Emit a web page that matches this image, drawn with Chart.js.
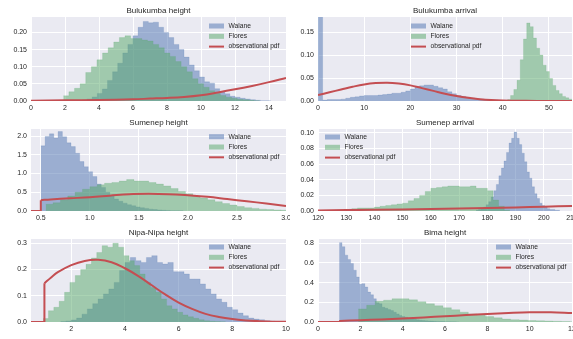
<!DOCTYPE html>
<html lang="en">
<head>
<meta charset="UTF-8">
<title>Walane / Flores histograms</title>
<style>
    body {
        margin: 0;
        background: #fff;
        width: 573px;
        height: 339px;
        position: relative;
        overflow: hidden;
    }
    canvas {
        position: absolute;
    }
</style>
</head>
<body>
<canvas id="c1" width="290" height="112" style="left:0;top:0"></canvas>
<canvas id="c2" width="283" height="112" style="left:290px;top:0"></canvas>
<canvas id="c3" width="290" height="111" style="left:0;top:112px"></canvas>
<canvas id="c4" width="283" height="111" style="left:290px;top:112px"></canvas>
<canvas id="c5" width="290" height="116" style="left:0;top:223px"></canvas>
<canvas id="c6" width="283" height="116" style="left:290px;top:223px"></canvas>

<script src="https://cdn.jsdelivr.net/npm/chart.js"></script>
<script>
// ---- data ----
// histograms: first bin edge, bin width, bar heights (density)

// Bulukumba height
const buluHeightWalaneStart = 2.7, buluHeightWalaneBin = 0.3;
const buluHeightWalane = [0.001, 0.003, 0.006, 0.012, 0.022, 0.035, 0.06, 0.085, 0.11, 0.14, 0.165, 0.19,
    0.215, 0.232, 0.228, 0.23, 0.215, 0.2, 0.185, 0.165, 0.15, 0.128, 0.105, 0.088, 0.07, 0.056, 0.052,
    0.036, 0.026, 0.021, 0.014, 0.011, 0.008, 0.006, 0.004, 0.002, 0.001, 0.001];
const buluHeightFloresStart = 1.9, buluHeightFloresBin = 0.33;
const buluHeightFlores = [0.015, 0.027, 0.037, 0.05, 0.083, 0.1, 0.12, 0.14, 0.155, 0.172, 0.185, 0.19,
    0.182, 0.182, 0.178, 0.175, 0.165, 0.155, 0.14, 0.13, 0.115, 0.1, 0.085, 0.065, 0.05, 0.04, 0.03,
    0.022, 0.016, 0.011, 0.008, 0.005, 0.004, 0.002, 0.001];
const buluHeightPdfX = [0, 2, 4, 6, 7, 8, 9, 10, 11, 12, 13, 14, 15];
const buluHeightPdfY = [0.001, 0.002, 0.003, 0.005, 0.007, 0.009, 0.012, 0.017, 0.025, 0.034, 0.044, 0.055, 0.067];

// Bulukumba arrival
const buluArrivalWalaneStart = 0, buluArrivalWalaneBin = 1;
const buluArrivalWalane = [0.3, 0.002, 0.003, 0.003, 0.003, 0.004, 0.006, 0.008, 0.009, 0.011, 0.012, 0.012,
    0.012, 0.013, 0.014, 0.015, 0.017, 0.017, 0.019, 0.022, 0.026, 0.031, 0.033, 0.035, 0.035, 0.032,
    0.029, 0.026, 0.02, 0.016, 0.012, 0.01, 0.008, 0.006, 0.005, 0.004, 0.003, 0.002, 0.002, 0.001, 0.001];
const buluArrivalFloresStart = 41.0, buluArrivalFloresBin = 0.7;
const buluArrivalFlores = [0.003, 0.012, 0.025, 0.045, 0.09, 0.135, 0.17, 0.162, 0.137, 0.115, 0.1, 0.078,
    0.064, 0.049, 0.034, 0.023, 0.016, 0.01, 0.007, 0.004];
const buluArrivalPdfX = [0, 2.5, 5, 7.5, 10, 12.5, 15, 17.5, 20, 22.5, 25, 27.5, 30, 32.5, 35, 37.5, 40, 45, 50, 55];
const buluArrivalPdfY = [0.013, 0.019, 0.025, 0.031, 0.036, 0.039, 0.04, 0.038, 0.034, 0.028, 0.022, 0.016,
    0.011, 0.007, 0.004, 0.002, 0.001, 0.0003, 0, 0];

// Sumenep height
const sumenepHeightWalaneStart = 0.5, sumenepHeightWalaneBin = 0.044;
const sumenepHeightWalane = [1.74, 1.99, 2.06, 1.95, 2.12, 1.98, 1.82, 1.72, 1.54, 1.32, 1.18, 1.05, 0.92,
    0.72, 0.63, 0.5, 0.4, 0.32, 0.26, 0.21, 0.17, 0.14, 0.11, 0.09, 0.07, 0.05, 0.04, 0.03, 0.02, 0.015,
    0.01, 0.008, 0.005];
const sumenepHeightFloresStart = 0.55, sumenepHeightFloresBin = 0.075;
const sumenepHeightFlores = [0.18, 0.22, 0.3, 0.4, 0.5, 0.58, 0.65, 0.7, 0.74, 0.76, 0.8, 0.84, 0.8, 0.8,
    0.76, 0.72, 0.67, 0.6, 0.52, 0.46, 0.4, 0.35, 0.3, 0.25, 0.2, 0.16, 0.12, 0.09, 0.07, 0.05, 0.04,
    0.03, 0.02];
const sumenepHeightPdfX = [0.5, 0.6, 0.8, 1.0, 1.2, 1.4, 1.6, 1.8, 2.0, 2.2, 2.4, 2.6, 2.8, 3.0];
const sumenepHeightPdfY = [0.29, 0.31, 0.34, 0.37, 0.41, 0.45, 0.46, 0.45, 0.42, 0.38, 0.32, 0.26, 0.2, 0.135];

// Sumenep arrival
const sumenepArrivalWalaneStart = 176, sumenepArrivalWalaneBin = 0.9;
const sumenepArrivalWalane = [0.001, 0.002, 0.003, 0.005, 0.008, 0.012, 0.018, 0.026, 0.034, 0.045, 0.055,
    0.064, 0.075, 0.087, 0.093, 0.101, 0.093, 0.085, 0.074, 0.063, 0.05, 0.042, 0.031, 0.022, 0.016,
    0.01, 0.007, 0.005, 0.003, 0.002, 0.002, 0.001, 0.001];
const sumenepArrivalFloresStart = 128, sumenepArrivalFloresBin = 2;
const sumenepArrivalFlores = [0.001, 0.002, 0.003, 0.004, 0.004, 0.004, 0.005, 0.006, 0.007, 0.008, 0.009,
    0.01, 0.013, 0.016, 0.02, 0.025, 0.029, 0.03, 0.031, 0.032, 0.032, 0.031, 0.031, 0.032, 0.029,
    0.029, 0.026, 0.014, 0.006, 0.001];
const sumenepArrivalPdfX = [120, 140, 160, 180, 190, 200, 210];
const sumenepArrivalPdfY = [0.0008, 0.0015, 0.0025, 0.0038, 0.0046, 0.0055, 0.0065];

// Nipa-Nipa height
const nipaWalaneStart = 1.6, nipaWalaneBin = 0.2;
const nipaWalane = [0.002, 0.004, 0.008, 0.015, 0.03, 0.05, 0.07, 0.088, 0.107, 0.126, 0.151, 0.196, 0.227,
    0.246, 0.234, 0.227, 0.246, 0.253, 0.227, 0.221, 0.227, 0.192, 0.192, 0.183, 0.164, 0.164, 0.145,
    0.126, 0.107, 0.088, 0.075, 0.056, 0.047, 0.034, 0.024, 0.015, 0.011, 0.009, 0.005, 0.003, 0.001];
const nipaFloresStart = 0.95, nipaFloresBin = 0.2;
const nipaFlores = [0.013, 0.043, 0.056, 0.079, 0.113, 0.151, 0.177, 0.2, 0.22, 0.244, 0.265, 0.291, 0.285,
    0.3, 0.285, 0.253, 0.234, 0.215, 0.183, 0.151, 0.132, 0.113, 0.088, 0.062, 0.05, 0.037, 0.027,
    0.02, 0.014, 0.009, 0.005, 0.003, 0.002, 0.001];
const nipaPdfX = [1.0, 1.25, 1.5, 2.0, 2.5, 3.0, 3.5, 4.0, 4.5, 5.0, 5.5, 6.0, 6.5, 7.0, 7.5, 8.0, 8.5, 9.0, 9.5, 10];
const nipaPdfY = [0.148, 0.17, 0.19, 0.217, 0.233, 0.237, 0.228, 0.205, 0.175, 0.14, 0.105, 0.074, 0.05,
    0.031, 0.019, 0.011, 0.006, 0.003, 0.001, 0.0005];

// Bima height
const bimaWalaneStart = 1.0, bimaWalaneBin = 0.135;
const bimaWalane = [0.807, 0.766, 0.68, 0.636, 0.595, 0.527, 0.458, 0.383, 0.39, 0.356, 0.304, 0.277, 0.236,
    0.195, 0.185, 0.15, 0.14, 0.126, 0.116, 0.099, 0.082, 0.065, 0.055, 0.048, 0.038, 0.034, 0.028,
    0.022, 0.018, 0.015, 0.013, 0.011, 0.009, 0.007, 0.006, 0.005, 0.004, 0.003, 0.003, 0.002, 0.002, 0.001];
const bimaFloresStart = 1.9, bimaFloresBin = 0.4;
const bimaFlores = [0.133, 0.17, 0.21, 0.222, 0.236, 0.236, 0.225, 0.205, 0.185, 0.165, 0.145, 0.125, 0.1,
    0.082, 0.068, 0.055, 0.042, 0.03, 0.024, 0.02, 0.015, 0.012, 0.01, 0.007, 0.005, 0.003];
const bimaPdfX = [1, 2, 3, 4, 5, 6, 7, 8, 9, 10, 11, 12];
const bimaPdfY = [0.01, 0.018, 0.026, 0.036, 0.047, 0.058, 0.07, 0.082, 0.092, 0.099, 0.098, 0.092];

const legendLabels = ['Walane', 'Flores', 'observational pdf'];

// ---- styling ----
const BLUE = 'rgba(76,114,176,0.5)';
const GREEN = 'rgba(85,168,104,0.5)';
const RED = '#C44E52';
const TEXT = '#262626';
const FONT = '"Liberation Sans", Arial, sans-serif';

Chart.defaults.font.family = FONT;

// histogram outline as points on the bin edges (drawn as a stepped, filled line)
function steps(start, width, heights) {
    const pts = heights.map((h, i) => ({ x: +(start + i * width).toFixed(5), y: h }));
    pts.push({ x: +(start + heights.length * width).toFixed(5), y: heights[heights.length - 1] });
    return pts;
}
function curve(xs, ys) {
    return xs.map((x, i) => ({ x: x, y: ys[i] }));
}

// background, title and in-plot legend
const panelDecor = {
    id: 'panelDecor',
    beforeDraw(chart, args, o) {
        const { ctx, chartArea: a } = chart;
        ctx.save();
        ctx.fillStyle = '#EAEAF2';
        ctx.fillRect(a.left, a.top, a.right - a.left, a.bottom - a.top);
        ctx.restore();
    },
    afterDraw(chart, args, o) {
        const { ctx, chartArea: a } = chart;
        ctx.save();
        ctx.fillStyle = TEXT;
        ctx.font = '8px ' + FONT;
        ctx.textAlign = 'center';
        ctx.textBaseline = 'middle';
        ctx.fillText(o.title, (a.left + a.right) / 2, a.top - 6);

        ctx.font = '6.7px ' + FONT;
        ctx.textAlign = 'left';
        const x0 = a.left + o.lx, y0 = a.top + o.ly;
        const swatch = [BLUE, GREEN, RED];
        legendLabels.forEach((label, i) => {
            const y = y0 + i * 10.3;
            if (i === 2) {
                ctx.strokeStyle = RED;
                ctx.lineWidth = 2;
                ctx.beginPath();
                ctx.moveTo(x0, y);
                ctx.lineTo(x0 + 15, y);
                ctx.stroke();
            } else {
                ctx.fillStyle = swatch[i];
                ctx.fillRect(x0, y - 2.5, 15, 5);
            }
            ctx.fillStyle = TEXT;
            ctx.fillText(label, x0 + 19.5, y);
        });
        ctx.restore();
    }
};

function makePanel(id, p) {
    // Chart.js 'before': the value of a point is held until the next point
    const histStyle = {
        stepped: 'before', fill: 'origin', pointRadius: 0,
        borderWidth: 0.5, tension: 0
    };
    const datasets = [
        {
            data: curve(p.pdfX, p.pdfY),
            borderColor: RED, borderWidth: 2, pointRadius: 0, tension: 0.4, fill: false, order: 0
        },
        Object.assign({
            data: steps(p.floresStart, p.floresBin, p.flores),
            backgroundColor: GREEN, borderColor: 'rgba(85,168,104,0.35)', order: 1
        }, histStyle),
        Object.assign({
            data: steps(p.walaneStart, p.walaneBin, p.walane),
            backgroundColor: BLUE, borderColor: 'rgba(76,114,176,0.35)', order: 2
        }, histStyle)
    ];
    if (p.stubFrom !== undefined) {
        // flat zero part of the pdf and its jump
        datasets.push({
            data: [{ x: p.stubFrom, y: 0 }, { x: p.pdfX[0], y: 0 }, { x: p.pdfX[0], y: p.pdfY[0] }],
            borderColor: RED, borderWidth: 2, pointRadius: 0, tension: 0, fill: false, order: 0
        });
    }

    const tickFont = { size: 7, family: FONT };
    const grid = { color: '#ffffff', lineWidth: 1, drawTicks: false };

    new Chart(document.getElementById(id), {
        type: 'line',
        data: { datasets: datasets },
        options: {
            responsive: false,
            animation: false,
            events: [],
            layout: { padding: { top: p.padTop, right: p.padRight, left: 0, bottom: 0 } },
            plugins: {
                legend: { display: false },
                tooltip: { enabled: false },
                panelDecor: { title: p.title, lx: p.lx, ly: p.ly }
            },
            scales: {
                x: {
                    type: 'linear', min: p.xMin, max: p.xMax, offset: false,
                    grid: grid, border: { display: false },
                    ticks: {
                        stepSize: p.xStep, autoSkip: false, maxRotation: 0, includeBounds: false,
                        padding: 3, color: TEXT, font: tickFont,
                        callback: v => v.toFixed(p.xDec)
                    },
                    afterFit: s => { s.height = p.xH; s.paddingLeft = 0; s.paddingRight = 0; }
                },
                y: {
                    min: 0, max: p.yMax,
                    grid: grid, border: { display: false },
                    ticks: {
                        stepSize: p.yStep, includeBounds: false, padding: 4, color: TEXT, font: tickFont,
                        callback: v => v.toFixed(p.yDec)
                    },
                    afterFit: s => { s.width = p.yW; s.paddingTop = 0; s.paddingBottom = 0; }
                }
            }
        },
        plugins: [panelDecor]
    });
}

makePanel('c1', {
    title: 'Bulukumba height',
    walaneStart: buluHeightWalaneStart, walaneBin: buluHeightWalaneBin, walane: buluHeightWalane,
    floresStart: buluHeightFloresStart, floresBin: buluHeightFloresBin, flores: buluHeightFlores,
    pdfX: buluHeightPdfX, pdfY: buluHeightPdfY,
    xMin: 0, xMax: 15, xStep: 2, xDec: 0, yMax: 0.245, yStep: 0.05, yDec: 2,
    padTop: 17, padRight: 4, yW: 31, xH: 11, lx: 178, ly: 9
});
makePanel('c2', {
    title: 'Bulukumba arrival',
    walaneStart: buluArrivalWalaneStart, walaneBin: buluArrivalWalaneBin, walane: buluArrivalWalane,
    floresStart: buluArrivalFloresStart, floresBin: buluArrivalFloresBin, flores: buluArrivalFlores,
    pdfX: buluArrivalPdfX, pdfY: buluArrivalPdfY,
    xMin: 0, xMax: 55, xStep: 10, xDec: 0, yMax: 0.183, yStep: 0.05, yDec: 2,
    padTop: 17, padRight: 1, yW: 28, xH: 11, lx: 93, ly: 9
});
makePanel('c3', {
    title: 'Sumenep height',
    walaneStart: sumenepHeightWalaneStart, walaneBin: sumenepHeightWalaneBin, walane: sumenepHeightWalane,
    floresStart: sumenepHeightFloresStart, floresBin: sumenepHeightFloresBin, flores: sumenepHeightFlores,
    pdfX: sumenepHeightPdfX, pdfY: sumenepHeightPdfY, stubFrom: 0.4,
    xMin: 0.4, xMax: 3.0, xStep: 0.5, xDec: 1, yMax: 2.19, yStep: 0.5, yDec: 1,
    padTop: 17, padRight: 4, yW: 31, xH: 12, lx: 178, ly: 7.7
});
makePanel('c4', {
    title: 'Sumenep arrival',
    walaneStart: sumenepArrivalWalaneStart, walaneBin: sumenepArrivalWalaneBin, walane: sumenepArrivalWalane,
    floresStart: sumenepArrivalFloresStart, floresBin: sumenepArrivalFloresBin, flores: sumenepArrivalFlores,
    pdfX: sumenepArrivalPdfX, pdfY: sumenepArrivalPdfY,
    xMin: 120, xMax: 210, xStep: 10, xDec: 0, yMax: 0.105, yStep: 0.02, yDec: 2,
    padTop: 17, padRight: 1, yW: 28, xH: 12, lx: 7, ly: 8
});
makePanel('c5', {
    title: 'Nipa-Nipa height',
    walaneStart: nipaWalaneStart, walaneBin: nipaWalaneBin, walane: nipaWalane,
    floresStart: nipaFloresStart, floresBin: nipaFloresBin, flores: nipaFlores,
    pdfX: nipaPdfX, pdfY: nipaPdfY, stubFrom: 0.5,
    xMin: 0.5, xMax: 10, xStep: 2, xDec: 0, yMax: 0.3165, yStep: 0.1, yDec: 1,
    padTop: 16, padRight: 4, yW: 31, xH: 17, lx: 178, ly: 8
});
makePanel('c6', {
    title: 'Bima height',
    walaneStart: bimaWalaneStart, walaneBin: bimaWalaneBin, walane: bimaWalane,
    floresStart: bimaFloresStart, floresBin: bimaFloresBin, flores: bimaFlores,
    pdfX: bimaPdfX, pdfY: bimaPdfY, stubFrom: 0,
    xMin: 0, xMax: 12, xStep: 2, xDec: 0, yMax: 0.844, yStep: 0.2, yDec: 1,
    padTop: 16, padRight: 1, yW: 28, xH: 17, lx: 178, ly: 8
});
</script>
</body>
</html>
